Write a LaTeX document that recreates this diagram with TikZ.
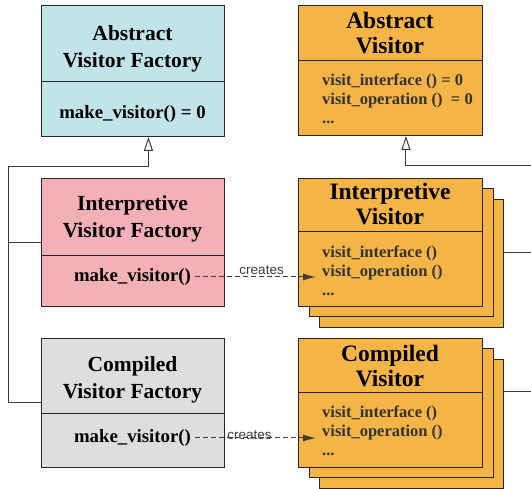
\documentclass[tikz,border=0pt]{standalone}
\usepackage{fontspec}
\setmainfont{Liberation Serif}
\newfontfamily\createsfont{Liberation Sans}
\usetikzlibrary{shadows,arrows.meta,calc}
\definecolor{facblue}{RGB}{192,228,232}
\definecolor{facpink}{RGB}{243,176,182}
\definecolor{facgrey}{RGB}{220,222,224}
\definecolor{visorange}{RGB}{245,180,70}
\definecolor{linegrey}{RGB}{60,60,60}
\tikzstyle{mybox} = [draw=black!85, line width=0.9pt, anchor=north west, inner sep=0pt, minimum width=183pt]
\tikzstyle{factitle} = [font={\fontsize{21.5}{27}\selectfont\bfseries}, align=center, inner sep=0pt]
\tikzstyle{facop} = [font={\fontsize{18.8}{22}\selectfont\bfseries}, inner sep=4pt]
\tikzstyle{vistitle} = [font={\fontsize{23.5}{25}\selectfont\bfseries}, align=center, inner sep=0pt]
\tikzstyle{visop} = [font={\fontsize{16.5}{19}\selectfont\bfseries}, text=black!80, align=left, anchor=north west, inner sep=0pt]
\tikzstyle{stacked} = [copy shadow={shadow xshift=21pt, shadow yshift=-21pt, fill=visorange, draw=black!85, line width=0.9pt}, copy shadow={shadow xshift=10.5pt, shadow yshift=-10.5pt, fill=visorange, draw=black!85, line width=0.9pt}]
\tikzstyle{divider} = [draw=black!85, line width=0.9pt]
\tikzstyle{plainline} = [draw=linegrey, line width=1pt]
\tikzstyle{inherits} = [plainline, -{Triangle[length=14pt, width=9pt, fill=white]}]
\tikzstyle{creates} = [plainline, dash pattern=on 5pt off 3pt, -{Latex[length=13pt, width=7pt]}]
\tikzstyle{createslabel} = [font={\createsfont\fontsize{13.5}{15}\selectfont}, text=linegrey]

\begin{document}
\begin{tikzpicture}[x=1pt, y=-1pt]
\useasboundingbox (0,0) rectangle (531,489);

\node[mybox, fill=facblue, minimum height=131pt] (f1) at (41,5) {};
\node[mybox, fill=facpink, minimum height=128pt] (f2) at (41,178) {};
\node[mybox, fill=facgrey, minimum height=129pt] (f3) at (41,338) {};
\node[mybox, fill=visorange, minimum width=184pt, minimum height=130pt] (v1) at (298,5) {};
\node[mybox, stacked, fill=visorange, minimum width=184pt, minimum height=128pt] (v2) at (298,178) {};
\node[mybox, stacked, fill=visorange, minimum width=184pt, minimum height=129pt] (v3) at (298,338) {};

\draw[divider] (41,81) -- (224,81);
\draw[divider] (41,255) -- (224,255);
\draw[divider] (41,413) -- (224,413);
\draw[divider] (298,60) -- (482,60);
\draw[divider] (298,231) -- (482,231);
\draw[divider] (298,392) -- (482,392);

\node[factitle] (f1t) at (132.5,48.5) {Abstract\\Visitor Factory};
\node[facop] (f1op) at (132.5,113.5) {make\_visitor() = 0};
\node[factitle] (f2t) at (132.5,218.5) {Interpretive\\Visitor Factory};
\node[facop] (f2op) at (132.5,277) {make\_visitor()};
\node[factitle] (f3t) at (132.5,380) {Compiled\\Visitor Factory};
\node[facop] (f3op) at (132.5,438) {make\_visitor()};

\node[vistitle] (v1t) at (390,33) {Abstract\\Visitor};
\node[visop] (v1op) at (322,74) {visit\_interface () = 0\\visit\_operation ()\ \ = 0\\...};
\node[vistitle] (v2t) at (390,204) {Interpretive\\Visitor};
\node[visop] (v2op) at (322,246) {visit\_interface ()\\visit\_operation ()\\...};
\node[vistitle] (v3t) at (390,366) {Compiled\\Visitor};
\node[visop] (v3op) at (322,406) {visit\_interface ()\\visit\_operation ()\\...};

\coordinate (fbus) at (8,167);
\coordinate (vbus) at (531,166);
\coordinate (v2port) at (503,253);
\coordinate (v2out) at (531,253);
\coordinate (v3port) at (503,392);
\coordinate (v3out) at (531,392);

\draw[inherits] (f3.west) -| (fbus) -| ($(f1.south)+(15.5,0)$);
\draw[plainline] (f2.west) -- (f2.west -| fbus);
\draw[inherits] (vbus) -| ($(v1.south)+(15.5,0)$);
\draw[plainline] (v2port) -- (v2out);
\draw[plainline] (v3port) -- (v3out);

\draw[creates] (f2op.east) -- ([xshift=18pt]v2.west |- f2op.east) node[createslabel, pos=0.55, above, inner sep=2pt] {creates};
\draw[creates] (f3op.east) -- ([xshift=18pt]v3.west |- f3op.east) node[createslabel, pos=0.45, above, inner sep=0pt, yshift=-2pt] {creates};
\end{tikzpicture}
\end{document}
